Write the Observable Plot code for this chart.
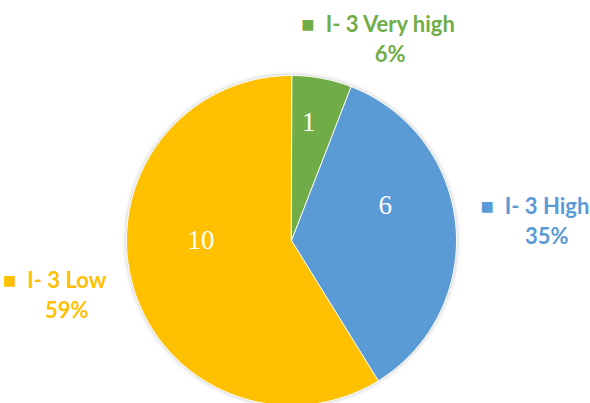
<!DOCTYPE html>
<html><head><meta charset="utf-8">
<script src="https://cdn.jsdelivr.net/npm/d3@7"></script>
<script src="https://cdn.jsdelivr.net/npm/@observablehq/plot@0.6"></script>
<style>
html,body{margin:0;padding:0;background:#fff;}
#chart svg{display:block;}
</style></head><body><div id="chart"></div>
<script>
const categories = ["I- 3 Very high", "I- 3 High", "I- 3 Low"];
const values = [1, 6, 10];
const colors = ["#70AD47", "#5B9BD5", "#FFC000"];

const W = 590, H = 403;
const cx = 291, cy = 240, R = 165;
const total = d3.sum(values);
const arcs = d3.pie().sort(null).value(d => d)(values);

const slices = [];
arcs.forEach((a, i) => {
  const key = categories[i];
  slices.push({key, x: 0, y: 0});
  const n = Math.max(2, Math.ceil((a.endAngle - a.startAngle) / (Math.PI / 180)));
  for (let k = 0; k <= n; k++) {
    const t = a.startAngle + (a.endAngle - a.startAngle) * k / n;
    slices.push({key, x: Math.sin(t), y: Math.cos(t)});
  }
});

const labels = arcs.map((a, i) => {
  const m = (a.startAngle + a.endAngle) / 2;
  const s = Math.sin(m), c = Math.cos(m);
  return {
    key: categories[i], value: values[i],
    pct: Math.round(values[i] / total * 100) + "%",
    ix: 0.57 * s, iy: 0.57 * c,
    ox: 1.17 * s + Math.sign(s) * 0.31, oy: 1.236 * c
  };
});

const font = "Lato, sans-serif";
const chart = Plot.plot({
  width: W, height: H,
  margin: 0,
  x: {domain: [-cx / R, (W - cx) / R], axis: null},
  y: {domain: [-(H - cy) / R, cy / R], axis: null},
  color: {domain: categories, range: colors},
  style: {background: "#fff"},
  marks: [
    Plot.line(slices, {x: "x", y: "y", z: "key", fill: "key", stroke: "white", strokeWidth: 1, curve: "linear-closed"}),
    Plot.text(labels, {x: "ix", y: "iy", text: d => String(d.value), fill: "white", fontSize: 27, fontFamily: "Liberation Serif, Times New Roman, serif", dy: -26}),
    Plot.text(labels, {x: "ox", y: "oy", text: d => "■\u2002" + d.key, fill: "key", fontSize: 22, fontWeight: "bold", fontFamily: font, dy: -15}),
    Plot.text(labels, {x: "ox", y: "oy", text: "pct", fill: "key", fontSize: 22, fontWeight: "bold", fontFamily: font, dx: 12, dy: 15})
  ]
});
const lineG = chart.querySelector('g[aria-label="line"]');
if (lineG) lineG.style.filter = "drop-shadow(0 0 2px rgba(0,0,0,0.25))";
document.getElementById("chart").appendChild(chart);
</script></body></html>
